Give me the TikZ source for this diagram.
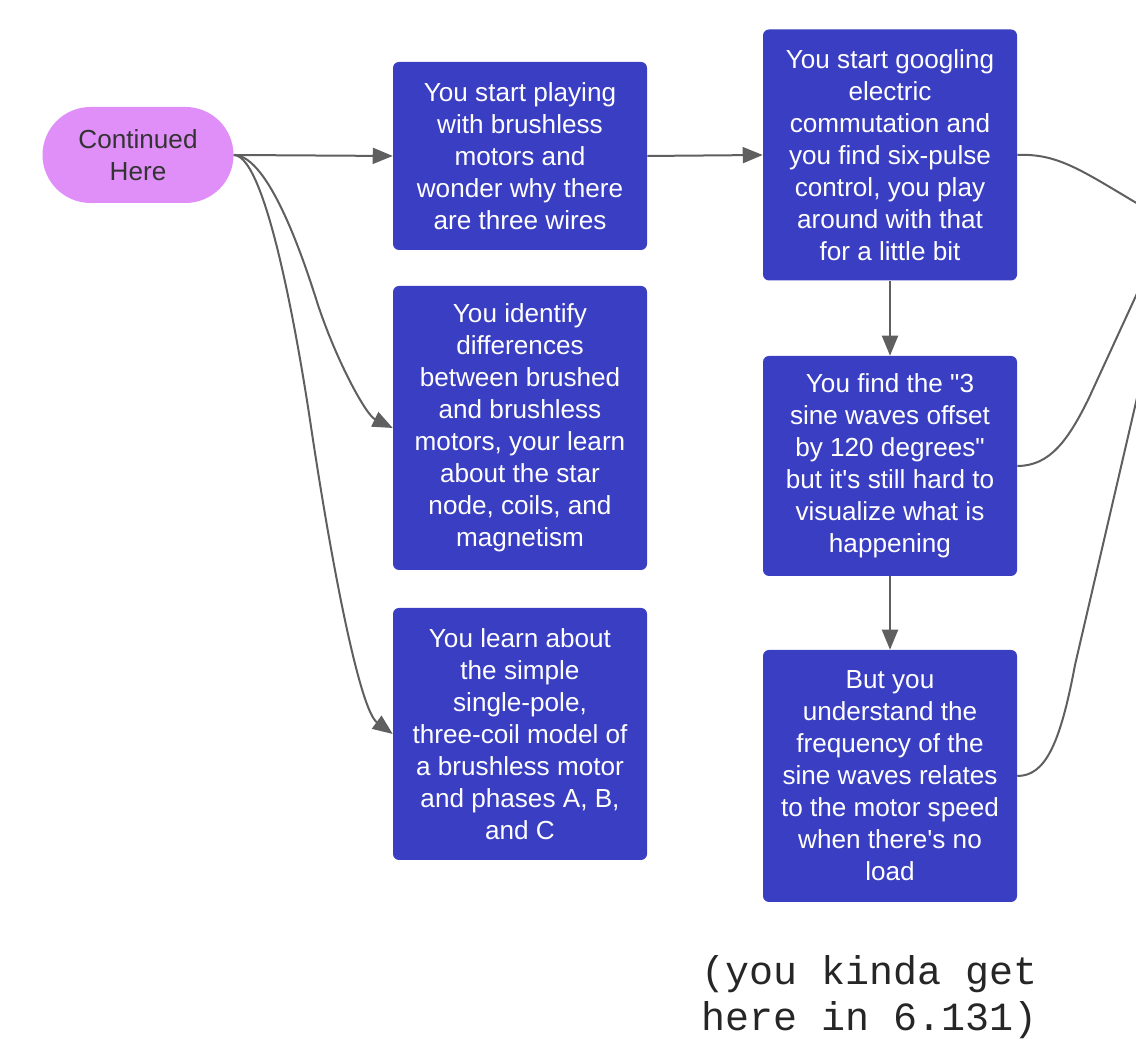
\documentclass[tikz,border=0pt]{standalone}
\usepackage{fontspec}
\setmainfont{Liberation Sans}
\setmonofont{Liberation Mono}
\usepackage{tikz}
\usetikzlibrary{arrows.meta}
\definecolor{caja}{HTML}{3A3EC2}
\definecolor{pildora}{HTML}{E08FF8}
\definecolor{flecha}{HTML}{5F5F5F}
\tikzstyle{caja}=[rectangle, fill=caja, rounded corners=4.5pt, text=white, align=center, minimum width=190.5pt, font=\fontsize{19.6pt}{24pt}\selectfont]
\tikzstyle{flecha}=[draw=flecha, line width=1.5pt, -{Triangle[length=15pt, width=12pt]}]
\tikzstyle{linea}=[draw=flecha, line width=1.5pt]

\begin{document}
\begin{tikzpicture}[x=0.75pt, y=0.75pt]
            \useasboundingbox (0,0) rectangle (1136,1045);
            % nodos
            \node[fill=pildora, rounded corners=36pt, minimum width=143.25pt, minimum height=72pt, text=black!80, align=center, font=\fontsize{19.6pt}{24pt}\selectfont] (p) at (138,890) {Continued\\Here};

            \node[caja, minimum height=141pt] (a) at (520,889) {You start playing\\with brushless\\motors and\\wonder why there\\are three wires};
            \node[caja, minimum height=213pt] (b) at (520,617) {You identify\\differences\\between brushed\\and brushless\\motors, your learn\\about the star\\node, coils, and\\magnetism};
            \node[caja, minimum height=189pt] (c) at (520,311) {You learn about\\the simple\\single-pole,\\three-coil model of\\a brushless motor\\and phases A, B,\\and C};

            \node[caja, minimum height=188.25pt] (d) at (890,890) {You start googling\\electric\\commutation and\\you find six-pulse\\control, you play\\around with that\\for a little bit};
            \node[caja, minimum height=165pt] (e) at (890,579) {You find the \textquotedbl3\\sine waves offset\\by 120 degrees\textquotedbl\\but it\textquotesingle s still hard to\\visualize what is\\happening};
            \node[caja, minimum height=189pt] (f) at (890,269) {But you\\understand the\\frequency of the\\sine waves relates\\to the motor speed\\when there\textquotesingle s no\\load};

            \node[align=center, text=black!85, font=\ttfamily\fontsize{30pt}{34.5pt}\selectfont] (n) at (870,48) {(you kinda get\\here in 6.131)};

            \coordinate (r1) at (1150,834);
            \coordinate (r2) at (1140,758);
            \coordinate (r3) at (1140,660);

            % flechas
            \draw[flecha] (p.east) -- (a.west);
            \draw[flecha] (p.east) .. controls (270,890) and (306,778) .. (318,740) .. controls (337,683) and (366,630) .. (b.west);
            \draw[flecha] (p.east) .. controls (268,890) and (301,684) .. (310,625) .. controls (332,477) and (360,335) .. (c.west);
            \draw[flecha] (a.east) -- (d.west);
            \draw[flecha] (d.south) -- (e.north);
            \draw[flecha] (e.south) -- (f.north);

            \draw[linea] (d.east) .. controls (1060,892) and (1085,872) .. (r1);
            \draw[linea] (e.east) .. controls (1050,579) and (1068,605) .. (1088,645) -- (r2);
            \draw[linea] (f.east) .. controls (1045,269) and (1060,300) .. (1075,380) -- (r3);
        \end{tikzpicture}
\end{document}
